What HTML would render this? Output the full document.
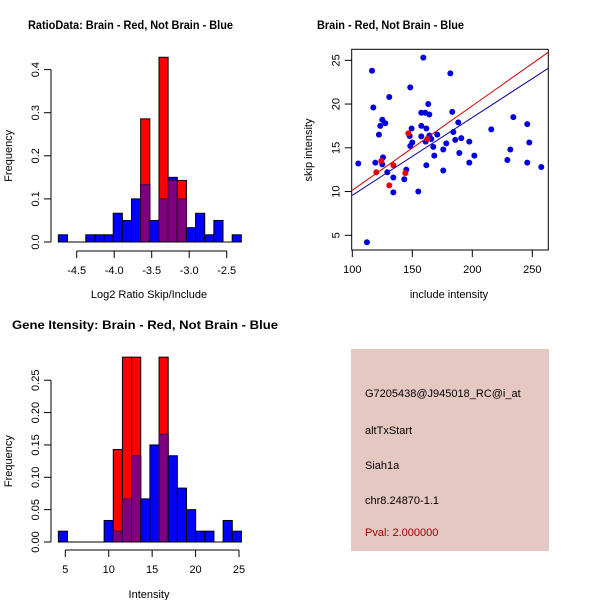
<!DOCTYPE html>
<html><head><meta charset="utf-8"><style>
body{margin:0;background:#fff}
svg{display:block;font-family:"Liberation Sans",sans-serif}
</style></head><body>
<svg id="c" width="600" height="600" viewBox="0 0 600 600">
<rect width="600" height="600" fill="#fff"/>
<text x="28" y="29" font-size="12" font-weight="bold" textLength="205" lengthAdjust="spacingAndGlyphs">RatioData: Brain - Red, Not Brain - Blue</text>
<text x="317" y="29" font-size="12" font-weight="bold" textLength="147" lengthAdjust="spacingAndGlyphs">Brain - Red, Not Brain - Blue</text>
<text x="12" y="329" font-size="12" font-weight="bold" textLength="266" lengthAdjust="spacingAndGlyphs">Gene Itensity: Brain - Red, Not Brain - Blue</text>
<g id="h1"></g>
<g id="sc"></g>
<g id="h2"></g>
<g>
<rect x="351" y="349" width="198" height="202" fill="#e6c8c2"/>
<text x="365" y="397" font-size="11" fill="#000">G7205438@J945018_RC@i_at</text>
<text x="365" y="434" font-size="11" fill="#000">altTxStart</text>
<text x="365" y="469" font-size="11" fill="#000">Siah1a</text>
<text x="365" y="504" font-size="11" fill="#000">chr8.24870-1.1</text>
<text x="365" y="536" font-size="11" fill="#a00000">Pval: 2.000000</text>
</g>
</svg>
<script>
// ---- Ratio histogram data ----
const ratioBinStart = -4.745;
const ratioBinWidth = 0.122;
const ratioBlue = [0.0167,0,0,0.0167,0.0167,0.0167,0.0667,0.05,0.1,0.1333,0.05,0.1,0.15,0.1,0.0333,0.0667,0.0167,0.05,0,0.0167];
const ratioRed  = [0,0,0,0,0,0,0,0,0,0.2857,0,0.4286,0.1429,0.1429,0,0,0,0,0,0];
const ratioXTicks = [-4.5,-4.0,-3.5,-3.0,-2.5];
const ratioXLabels = ["-4.5","-4.0","-3.5","-3.0","-2.5"];
const ratioYTicks = [0,0.1,0.2,0.3,0.4];
const ratioYLabels = ["0.0","0.1","0.2","0.3","0.4"];
// ---- Intensity histogram data ----
const intBinStart = 4.2;
const intBinWidth = 1.054;
const intBlue = [0.0167,0,0,0,0,0.0333,0.0167,0.0667,0.1333,0.0667,0.15,0.1667,0.1333,0.0833,0.05,0.0167,0.0167,0,0.0333,0.0167];
const intRed  = [0,0,0,0,0,0,0.1429,0.2857,0.2857,0,0,0.2857,0,0,0,0,0,0,0,0];
const intXTicks = [5,10,15,20,25];
const intXLabels = ["5","10","15","20","25"];
const intYTicks = [0,0.05,0.1,0.15,0.2,0.25];
const intYLabels = ["0.00","0.05","0.10","0.15","0.20","0.25"];
// ---- Scatter data ----
const blueX = [105,112.2,116.4,117.5,119.2,122.2,123.3,125,125.6,125,127.5,129.2,130.8,134.2,134.2,143.3,145,148.3,147.8,148.3,149.4,150,155,157.5,157.5,157.5,159.2,160.8,161.1,161.7,161.7,163.3,164.2,164.2,165.8,167.5,168.3,170.8,175.8,175.8,178.3,181.7,183.3,184.2,185.8,188.3,189.2,190.8,197.5,197.5,201.7,215.8,229.2,231.7,234.2,245.8,245.8,247.5,257.5];
const blueY = [13.2,4.2,23.8,19.6,13.3,16.5,17.5,18.2,13.9,13.1,17.8,12.2,20.8,11.6,9.9,11.4,12.5,21.9,16.35,15.2,17.2,15.6,10.0,19.0,17.5,16.3,25.3,19.0,15.7,17.2,13.0,20.0,18.8,16.4,16.0,15.1,14.1,16.5,14.8,12.4,15.5,23.5,19.1,16.8,15.9,17.9,14.4,16.1,15.7,13.3,14.1,17.1,13.6,14.8,18.5,17.7,13.3,15.6,12.8];
const redX = [120,124.2,134.2,130.8,144.2,146.7,162.5];
const redY = [12.2,13.5,13.0,10.7,12.1,16.65,16.0];
const redFit = [0.48,0.0966];   // intercept, slope
const blueFit = [0.68,0.0889];
const scXTicks = [100,150,200,250];
const scYTicks = [5,10,15,20,25];

const NS="http://www.w3.org/2000/svg";
function mk(parent,tag,attrs){const e=document.createElementNS(NS,tag);for(const k in attrs)e.setAttribute(k,attrs[k]);parent.appendChild(e);return e;}

function hist(g,o){
  const sx=v=>o.x0+(v-o.vx0)*o.kx, sy=v=>o.y0-v*o.ky;
  for(let i=0;i<o.blue.length;i++){
    const a=o.start+i*o.w,b=a+o.w,x=sx(a),wd=sx(b)-x;
    const bl=o.blue[i],rd=o.red[i];
    if(bl>0){const r=mk(g,'rect',{x:x,y:sy(bl),width:wd,height:sy(0)-sy(bl),fill:'#0000ff',stroke:'#000','stroke-width':1});
      
      }
    if(rd>0){const r=mk(g,'rect',{x:x,y:sy(rd),width:wd,height:sy(0)-sy(rd),fill:'#ff0000',stroke:'#000','stroke-width':1});
      
      }
    const m=Math.min(bl,rd);
    if(m>0){const r=mk(g,'rect',{x:x,y:sy(m),width:wd,height:sy(0)-sy(m),fill:'#7f007f',stroke:'#400040','stroke-width':1});
      
      }
  }
  const n=o.blue.length;
  mk(g,'line',{x1:sx(o.start),x2:sx(o.start+n*o.w),y1:sy(0),y2:sy(0),stroke:'#000'});
  // y axis
  const yt=o.yt;
  mk(g,'line',{x1:o.ax,x2:o.ax,y1:sy(yt[0]),y2:sy(yt[yt.length-1]),stroke:'#000'});
  yt.forEach((v,i)=>{mk(g,'line',{x1:o.ax-7,x2:o.ax,y1:sy(v),y2:sy(v),stroke:'#000'});
    const t=mk(g,'text',{x:o.ax-12,y:sy(v),'font-size':11,'text-anchor':'middle',transform:`rotate(-90 ${o.ax-12} ${sy(v)})`});t.textContent=o.yl[i];
    
    });
  const xt=o.xt,ay=o.ay;
  mk(g,'line',{x1:sx(xt[0]),x2:sx(xt[xt.length-1]),y1:ay,y2:ay,stroke:'#000'});
  xt.forEach((v,i)=>{mk(g,'line',{x1:sx(v),x2:sx(v),y1:ay,y2:ay+7,stroke:'#000'});
    const t=mk(g,'text',{x:sx(v),y:ay+23,'font-size':11,'text-anchor':'middle'});t.textContent=o.xl[i];
    
    });
  const xt2=mk(g,'text',{x:o.xlx,y:o.xly,'font-size':11,'text-anchor':'middle'});xt2.textContent=o.xlab;
  
  
  const yy=(sy(yt[0])+sy(yt[yt.length-1]))/2;
  const yt2=mk(g,'text',{x:12,y:yy,'font-size':11,'text-anchor':'middle',transform:`rotate(-90 12 ${yy})`});yt2.textContent='Frequency';
  
  
}
hist(document.getElementById('h1'),{x0:76.7,vx0:-4.5,kx:75,y0:242,ky:431,start:ratioBinStart,w:ratioBinWidth,blue:ratioBlue,red:ratioRed,
  xt:ratioXTicks,xl:ratioXLabels,yt:ratioYTicks,yl:ratioYLabels,ax:51,ay:251,xlab:'Log2 Ratio Skip/Include',xlx:149,xly:298});
hist(document.getElementById('h2'),{x0:65.3,vx0:5,kx:8.685,y0:542,ky:647,start:intBinStart,w:intBinWidth,blue:intBlue,red:intRed,
  xt:intXTicks,xl:intXLabels,yt:intYTicks,yl:intYLabels,ax:51,ay:550,xlab:'Intensity',xlx:149,xly:598});

// scatter
(function(){
  const g=document.getElementById('sc');
  const sx=v=>352.3+(v-100)*1.2, sy=v=>235.3-(v-5)*8.75;
  const L=351.7,R=548.3,T=49.3,B=250;
  mk(g,'rect',{x:L,y:T,width:R-L,height:B-T,fill:'none',stroke:'#000'});
  scXTicks.forEach(v=>{mk(g,'line',{x1:sx(v),x2:sx(v),y1:B,y2:B+7,stroke:'#000'});
    const t=mk(g,'text',{x:sx(v),y:B+23,'font-size':11,'text-anchor':'middle'});t.textContent=v;
    
    });
  scYTicks.forEach(v=>{mk(g,'line',{x1:L-7,x2:L,y1:sy(v),y2:sy(v),stroke:'#000'});
    const t=mk(g,'text',{x:L-12,y:sy(v),'font-size':11,'text-anchor':'middle',transform:`rotate(-90 ${L-12} ${sy(v)})`});t.textContent=v;
    
    });
  const xt=mk(g,'text',{x:449,y:298,'font-size':11,'text-anchor':'middle'});xt.textContent='include intensity';
  
  
  const yt=mk(g,'text',{x:312,y:150,'font-size':11,'text-anchor':'middle',transform:'rotate(-90 312 150)'});yt.textContent='skip intensity';
  
  
  const cp=mk(g,'clipPath',{id:'scclip'});mk(cp,'rect',{x:L,y:T,width:R-L,height:B-T});
  const pts=mk(g,'g',{'clip-path':'url(#scclip)'});
  blueX.forEach((x,i)=>{const c=mk(pts,'circle',{cx:sx(x),cy:sy(blueY[i]),r:3,fill:'#0000dd'});
    
    });
  redX.forEach((x,i)=>{const c=mk(pts,'circle',{cx:sx(x),cy:sy(redY[i]),r:3,fill:'#ee0000'});
    
    });
  const x0=100,x1=263.3;
  const rl=mk(pts,'line',{x1:sx(x0),y1:sy(redFit[0]+redFit[1]*x0),x2:sx(x1),y2:sy(redFit[0]+redFit[1]*x1),stroke:'#cc0000'});
  
  
  const bl=mk(pts,'line',{x1:sx(x0),y1:sy(blueFit[0]+blueFit[1]*x0),x2:sx(x1),y2:sy(blueFit[0]+blueFit[1]*x1),stroke:'#000099'});
  
  
})();
</script>
</body></html>
